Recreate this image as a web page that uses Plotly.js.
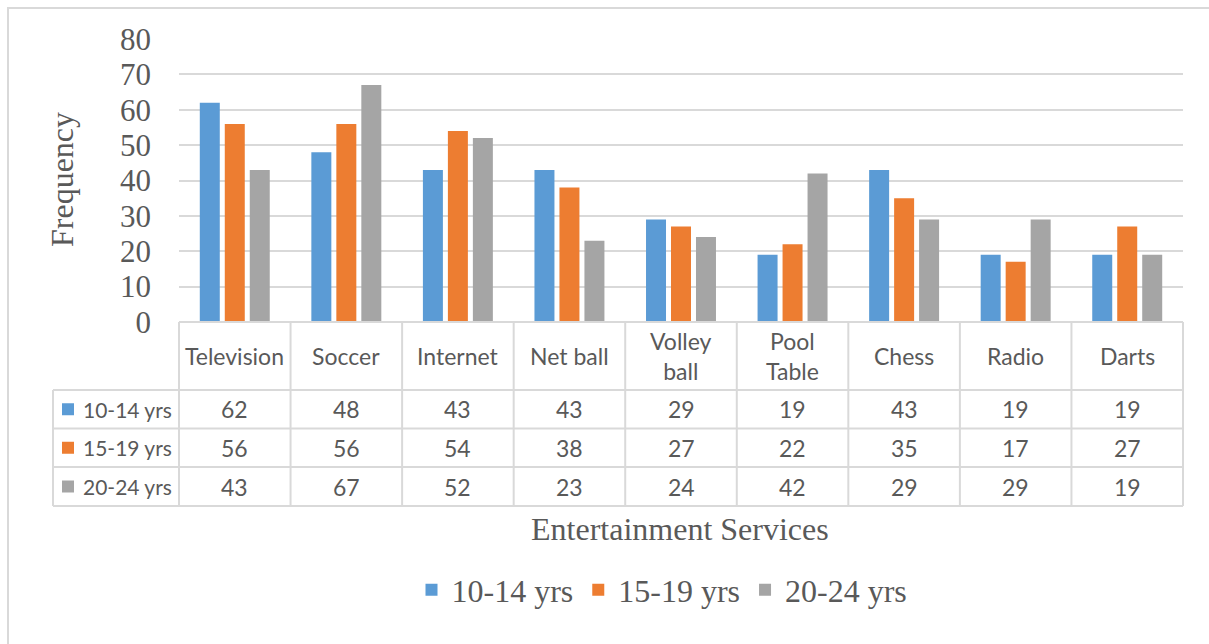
<!DOCTYPE html>
<html>
<head>
<meta charset="utf-8">
<script src="https://cdn.plot.ly/plotly-3.0.1.min.js"></script>
<style>html,body{margin:0;padding:0;background:#fff;}#chart{width:1209px;height:644px;}</style>
</head>
<body>
<div id="chart"></div>
<script>
// ---- data ----
const categories = ["Television", "Soccer", "Internet", "Net ball", "Volley<br>ball", "Pool<br>Table", "Chess", "Radio", "Darts"];
const seriesNames = ["10-14 yrs", "15-19 yrs", "20-24 yrs"];
const age10_14 = [62, 48, 43, 43, 29, 19, 43, 19, 19];
const age15_19 = [56, 56, 54, 38, 27, 22, 35, 17, 27];
const age20_24 = [43, 67, 52, 23, 24, 42, 29, 29, 19];
const yTicks = [0, 10, 20, 30, 40, 50, 60, 70, 80];
const colors = ["#5B9BD5", "#ED7D31", "#A5A5A5"];
const series = [age10_14, age15_19, age20_24];

// ---- geometry (pixels) ----
const W = 1209, H = 644;
const L = 179, R = 1183, T = 39, B = 322;
const pw = R - L, ph = B - T;
const px = v => (v - L) / pw;       // pixel x -> paper
const py = v => (B - v) / ph;       // pixel y -> paper
const grid = "#D9D9D9";
const textCol = "#595959";
const serif = "Liberation Serif, Times New Roman, serif";
const sans = "Lato, Carlito, Calibri, sans-serif";
const tfs = 23;

const idx = categories.map((_, i) => i);
const traces = series.map((vals, s) => ({
  type: "bar",
  name: seriesNames[s],
  x: idx,
  y: vals,
  marker: { color: colors[s] },
  hoverinfo: "x+y+name"
}));

// ---- table ----
const rowTops = [322, 390, 428.5, 467, 506];
const tableLeft = 53;
const shapes = [];
const ann = [];
const line = (x0, y0, x1, y1) => shapes.push({
  type: "line", xref: "paper", yref: "paper",
  x0: px(x0), y0: py(y0), x1: px(x1), y1: py(y1),
  line: { color: grid, width: 2 }
});
// outer border
shapes.push({ type: "rect", xref: "paper", yref: "paper",
  x0: px(8), y0: py(8), x1: px(1220), y1: py(660),
  line: { color: grid, width: 2 }, fillcolor: "rgba(0,0,0,0)", layer: "below" });

// horizontal lines
line(L, rowTops[0], R, rowTops[0]);
for (let r = 1; r < rowTops.length; r++) line(tableLeft, rowTops[r], R, rowTops[r]);
// vertical lines
for (let c = 0; c <= categories.length; c++) {
  const xp = L + c * pw / categories.length;
  line(xp, rowTops[0], xp, rowTops[4]);
}
line(tableLeft, rowTops[1], tableLeft, rowTops[4]);

// header labels
categories.forEach((c, i) => {
  ann.push({ xref: "x", yref: "paper", x: i, y: py((rowTops[0] + rowTops[1]) / 2),
    text: c, showarrow: false, font: { family: sans, size: tfs, color: textCol },
    xanchor: "center", yanchor: "middle", align: "center" });
});
// rows
series.forEach((vals, s) => {
  const yc = (rowTops[s + 1] + rowTops[s + 2]) / 2;
  shapes.push({ type: "rect", xref: "paper", yref: "paper",
    x0: px(62), x1: px(74), y0: py(yc - 6), y1: py(yc + 6),
    fillcolor: colors[s], line: { width: 0 } });
  ann.push({ xref: "paper", yref: "paper", x: px(81), y: py(yc), text: seriesNames[s],
    showarrow: false, xanchor: "left", yanchor: "middle",
    font: { family: sans, size: 21, color: textCol } });
  vals.forEach((v, i) => {
    ann.push({ xref: "x", yref: "paper", x: i, y: py(yc), text: String(v),
      showarrow: false, xanchor: "center", yanchor: "middle",
      font: { family: sans, size: tfs, color: textCol } });
  });
});

// axis titles
ann.push({ xref: "paper", yref: "paper", x: px(62), y: py(180), text: "Frequency",
  textangle: -90, showarrow: false, xanchor: "center", yanchor: "middle",
  font: { family: serif, size: 32, color: textCol } });
ann.push({ xref: "paper", yref: "paper", x: px(680), y: py(529), text: "Entertainment Services",
  showarrow: false, xanchor: "center", yanchor: "middle",
  font: { family: serif, size: 32, color: textCol } });

const layout = {
  width: W, height: H,
  margin: { l: L, r: W - R, t: T, b: H - B, pad: 0 },
  paper_bgcolor: "#fff", plot_bgcolor: "#fff",
  barmode: "group", bargap: 0.328, bargroupgap: 0.2,
  showlegend: true,
  legend: { orientation: "h", x: px(662), xanchor: "center", y: py(590), yanchor: "middle",
    font: { family: serif, size: 32, color: textCol }, itemwidth: 30, tracegroupgap: 0 },
  xaxis: { range: [-0.5, 8.5], showticklabels: false, showgrid: false, zeroline: false,
    showline: false, ticks: "", fixedrange: true },
  yaxis: { range: [0, 80], tickvals: yTicks, ticktext: yTicks.map(String),
    showgrid: true, gridcolor: grid, gridwidth: 2, zeroline: false, showline: false,
    ticks: "", ticklabelstandoff: 27,
    tickfont: { family: serif, size: 31, color: textCol }, fixedrange: true },
  shapes: shapes,
  annotations: ann
};

Plotly.newPlot("chart", traces, layout, { displayModeBar: false, staticPlot: true });
</script>
</body>
</html>
